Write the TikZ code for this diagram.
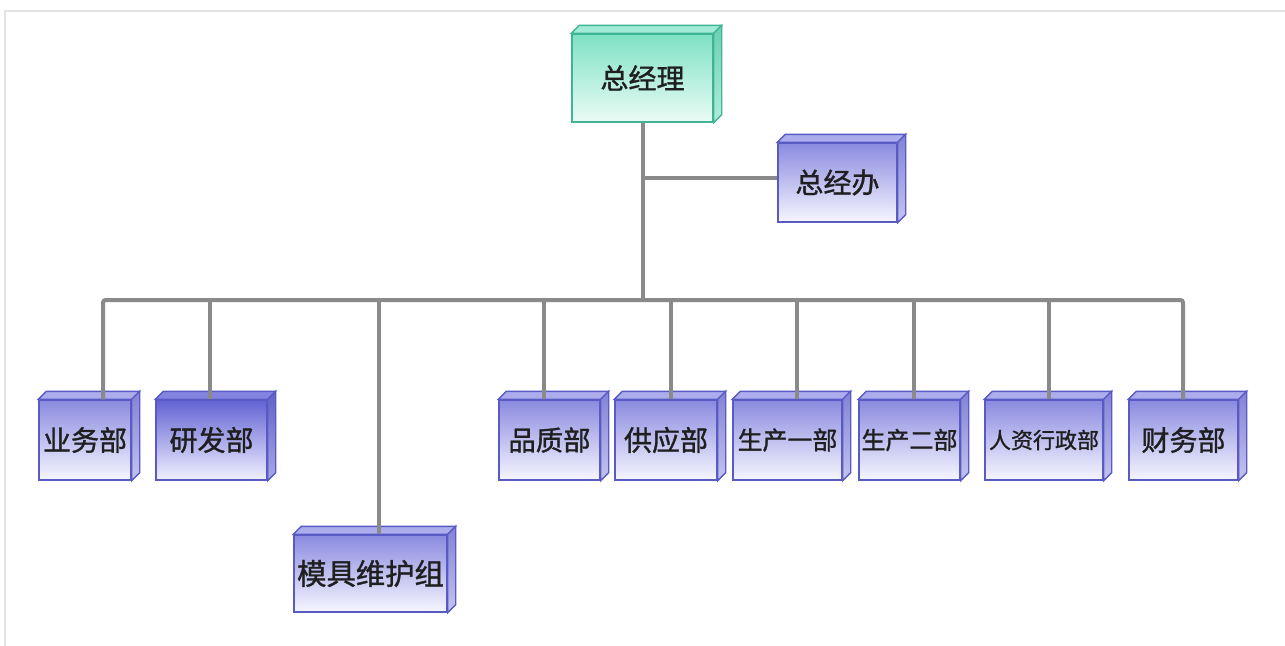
\documentclass[tikz,border=0pt]{standalone}
\usepackage{fontspec}
\newfontfamily\cjk[FakeBold=1.2]{Noto Sans CJK SC}
\usetikzlibrary{fit}
\definecolor{bTop}{HTML}{8A8AE0}
\definecolor{bMid}{HTML}{A2A2EA}
\definecolor{bBot}{HTML}{F6F6FF}
\definecolor{bDraw}{HTML}{5A5AC4}
\definecolor{bFace}{HTML}{ADADEE}
\definecolor{bSide}{HTML}{8282D6}
\definecolor{bSideBot}{HTML}{C4C4F0}
\definecolor{dTop}{HTML}{6262D4}
\definecolor{dMid}{HTML}{8A8AE0}
\definecolor{dBot}{HTML}{F0F0FF}
\definecolor{dFace}{HTML}{8484E0}
\definecolor{dSide}{HTML}{6060C8}
\definecolor{dSideBot}{HTML}{A8A8E8}
\definecolor{tTop}{HTML}{7EE2C4}
\definecolor{tMid}{HTML}{9CE9D2}
\definecolor{tBot}{HTML}{EAFBF5}
\definecolor{tDraw}{HTML}{3FB596}
\definecolor{tFace}{HTML}{A2EBD6}
\definecolor{tSide}{HTML}{6ACFB0}
\definecolor{tSideBot}{HTML}{B0EEDC}
\definecolor{lineGray}{HTML}{8A8A8A}
\tikzset{
  x=0.75pt, y=-0.75pt,
  conn/.style={draw=lineGray, line width=3pt},
  blue front/.style={draw=bDraw, line width=1pt, top color=bTop, middle color=bMid, bottom color=bBot},
  blue face/.style={fill=bFace, draw=bDraw, line width=1pt},
  blue side/.style={top color=bSide, bottom color=bSideBot, draw=bDraw, line width=1pt},
  dark front/.style={draw=bDraw, line width=1pt, top color=dTop, middle color=dMid, bottom color=dBot},
  dark face/.style={fill=dFace, draw=bDraw, line width=1pt},
  dark side/.style={top color=dSide, bottom color=dSideBot, draw=bDraw, line width=1pt},
  teal front/.style={draw=tDraw, line width=1pt, top color=tTop, middle color=tMid, bottom color=tBot},
  teal face/.style={fill=tFace, draw=tDraw, line width=1pt},
  teal side/.style={top color=tSide, bottom color=tSideBot, draw=tDraw, line width=1pt},
  boxtext/.style={text=black!88, inner sep=0pt},
}
\newcommand\orgbox[8]{%
  \node[fit={(#2,#3) (#4,#5)}, inner sep=0pt, #6 front] (#1) {};
  \filldraw[#6 face] (#1.north west) -- ([shift={(8,-8)}]#1.north west) -- ([shift={(8,-8)}]#1.north east) -- (#1.north east) -- cycle;
  \filldraw[#6 side] (#1.north east) -- ([shift={(8,-8)}]#1.north east) -- ([shift={(8,-8)}]#1.south east) -- (#1.south east) -- cycle;
  \node[boxtext, font=\cjk\fontsize{#7}{#7}\selectfont] (#1-t) at (#1.center) {#8};
}
\begin{document}
\begin{tikzpicture}
\useasboundingbox (0,0) rectangle (1285,646);
\fill[white] (0,0) rectangle (1285,646);
\draw[draw=black!11, line width=1.5pt] (5,646) -- (5,11) -- (1285,11);

\orgbox{gm}{572}{34}{713}{122}{teal}{21pt}{总经理}
\orgbox{zjb}{778}{143}{897}{222}{blue}{21pt}{总经办}
\orgbox{ywb}{39}{400}{131}{480}{blue}{21pt}{业务部}
\orgbox{yfb}{156}{400}{267}{480}{dark}{21pt}{研发部}
\orgbox{pzb}{499}{400}{600}{480}{blue}{20.5pt}{品质部}
\orgbox{gyb}{615}{400}{717}{480}{blue}{21pt}{供应部}
\orgbox{sc1}{733}{400}{842}{480}{blue}{18.7pt}{生产一部}
\orgbox{sc2}{859}{400}{960}{480}{blue}{18pt}{生产二部}
\orgbox{rz}{985}{400}{1103}{480}{blue}{16.5pt}{人资行政部}
\orgbox{cw}{1129}{400}{1238}{480}{blue}{21pt}{财务部}
\orgbox{mj}{294}{535}{447}{612}{blue}{22pt}{模具维护组}

\coordinate (j) at (643,300);
\coordinate (b1) at (643,178);
\coordinate (d1) at (103,300);
\coordinate (d2) at (210,300);
\coordinate (d3) at (379,300);
\coordinate (d4) at (544,300);
\coordinate (d5) at (671,300);
\coordinate (d6) at (797,300);
\coordinate (d7) at (914,300);
\coordinate (d8) at (1049,300);
\coordinate (d9) at (1183,300);

\draw[conn] (gm.south -| j) -- (j);
\draw[conn] (b1) -- (b1 -| zjb.west);
\draw[conn, rounded corners=2pt] (d1 |- ywb.north) -- (d1) -- (d9) -- (d9 |- cw.north);
\draw[conn] (d2) -- (d2 |- yfb.north);
\draw[conn] (d3) -- (d3 |- mj.north);
\draw[conn] (d4) -- (d4 |- pzb.north);
\draw[conn] (d5) -- (d5 |- gyb.north);
\draw[conn] (d6) -- (d6 |- sc1.north);
\draw[conn] (d7) -- (d7 |- sc2.north);
\draw[conn] (d8) -- (d8 |- rz.north);
\end{tikzpicture}
\end{document}
